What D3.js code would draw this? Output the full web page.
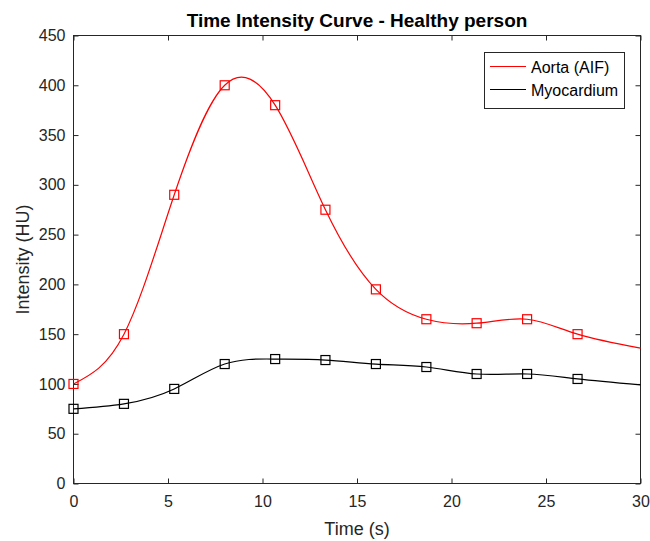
<!DOCTYPE html>
<html>
<head>
<meta charset="utf-8">
<script src="https://cdn.jsdelivr.net/npm/d3@7"></script>
<style>
  body { margin: 0; background: #fff; }
  text { font-family: "Liberation Sans", Arial, Helvetica, sans-serif; }
</style>
</head>
<body>
<svg width="650" height="541"></svg>
<script>
// sample times (s) and measured intensities (HU)
var times = [0, 2.67, 5.33, 8, 10.67, 13.33, 16, 18.67, 21.33, 24, 26.67];
var aorta = [100, 150, 290, 400, 380, 275, 195, 165, 161, 165, 150];
var myocardium = [75, 80, 95, 120, 125, 124, 120, 117, 110, 110, 105];
// where the fitted curves end at the right edge
var endTime = 30;
var aortaEnd = 136;
var myocardiumEnd = 99;

var xTicks = [0, 5, 10, 15, 20, 25, 30];
var yTicks = [0, 50, 100, 150, 200, 250, 300, 350, 400, 450];

var svg = d3.select("svg"),
    plotLeft = 73.5, plotRight = 640.5, plotTop = 35.5, plotBottom = 483.5,
    axisColor = "#262626";

var x = d3.scaleLinear().domain([0, 30]).range([plotLeft, plotRight]);
var y = d3.scaleLinear().domain([0, 450]).range([plotBottom, plotTop]);

// axes: labels outside, ticks pointing in
svg.append("g")
    .attr("transform", "translate(0," + plotBottom + ")")
    .call(d3.axisBottom(x).tickValues(xTicks).tickSize(-5).tickPadding(12).tickFormat(d3.format("d")))
    .call(function(g) {
      g.select(".domain").remove();
      g.selectAll("line").attr("stroke", axisColor);
      g.selectAll("text").attr("fill", axisColor).attr("font-size", 16);
    });

svg.append("g")
    .attr("transform", "translate(" + plotLeft + ",0)")
    .call(d3.axisLeft(y).tickValues(yTicks).tickSize(-5).tickPadding(8).tickFormat(d3.format("d")))
    .call(function(g) {
      g.select(".domain").remove();
      g.selectAll("line").attr("stroke", axisColor);
      g.selectAll("text").attr("fill", axisColor).attr("font-size", 16);
    });

// mirrored ticks on top and right (box on)
svg.append("g")
    .attr("transform", "translate(0," + plotTop + ")")
    .call(d3.axisTop(x).tickValues(xTicks).tickSize(-5).tickFormat(""))
    .call(function(g) {
      g.select(".domain").remove();
      g.selectAll("line").attr("stroke", axisColor);
    });

svg.append("g")
    .attr("transform", "translate(" + plotRight + ",0)")
    .call(d3.axisRight(y).tickValues(yTicks).tickSize(-5).tickFormat(""))
    .call(function(g) {
      g.select(".domain").remove();
      g.selectAll("line").attr("stroke", axisColor);
    });

svg.append("rect")
    .attr("x", plotLeft).attr("y", plotTop)
    .attr("width", plotRight - plotLeft).attr("height", plotBottom - plotTop)
    .attr("fill", "none")
    .attr("stroke", axisColor);

var line = d3.line()
    .x(function(d) { return x(d[0]); })
    .y(function(d) { return y(d[1]); })
    .curve(d3.curveNatural);

var series = [
  { name: "Aorta (AIF)", color: "#ff0000", values: aorta, end: aortaEnd },
  { name: "Myocardium", color: "#000000", values: myocardium, end: myocardiumEnd }
];

series.forEach(function(s) {
  var pts = times.map(function(t, i) { return [t, s.values[i]]; });
  var curvePts = pts.concat([[endTime, s.end]]);

  svg.append("path")
      .datum(curvePts)
      .attr("fill", "none")
      .attr("stroke", s.color)
      .attr("stroke-width", 1.2)
      .attr("d", line);

  svg.append("g")
    .selectAll("rect")
    .data(pts)
    .enter().append("rect")
      .attr("x", function(d) { return x(d[0]) - 4.5; })
      .attr("y", function(d) { return y(d[1]) - 4.5; })
      .attr("width", 9)
      .attr("height", 9)
      .attr("fill", "none")
      .attr("stroke", s.color)
      .attr("stroke-width", 1.2);
});

// title and axis labels
svg.append("text")
    .attr("x", (plotLeft + plotRight) / 2)
    .attr("y", 27)
    .attr("text-anchor", "middle")
    .attr("font-size", 19)
    .attr("font-weight", "bold")
    .attr("fill", "#000")
    .text("Time Intensity Curve - Healthy person");

svg.append("text")
    .attr("x", (plotLeft + plotRight) / 2)
    .attr("y", 535)
    .attr("text-anchor", "middle")
    .attr("font-size", 18)
    .attr("fill", axisColor)
    .text("Time (s)");

svg.append("text")
    .attr("transform", "translate(29," + (plotTop + plotBottom) / 2 + ") rotate(-90)")
    .attr("text-anchor", "middle")
    .attr("font-size", 18)
    .attr("fill", axisColor)
    .text("Intensity (HU)");

// legend
var legend = svg.append("g");
legend.append("rect")
    .attr("x", 484.5).attr("y", 52.5)
    .attr("width", 140).attr("height", 56)
    .attr("fill", "#fff")
    .attr("stroke", axisColor);

series.forEach(function(s, i) {
  var ly = 66.5 + i * 23;
  legend.append("line")
      .attr("x1", 490).attr("x2", 526)
      .attr("y1", ly).attr("y2", ly)
      .attr("stroke", s.color)
      .attr("stroke-width", 1.2);
  legend.append("text")
      .attr("x", 531)
      .attr("y", ly + 6)
      .attr("font-size", 16)
      .attr("fill", "#000")
      .text(s.name);
});
</script>
</body>
</html>
